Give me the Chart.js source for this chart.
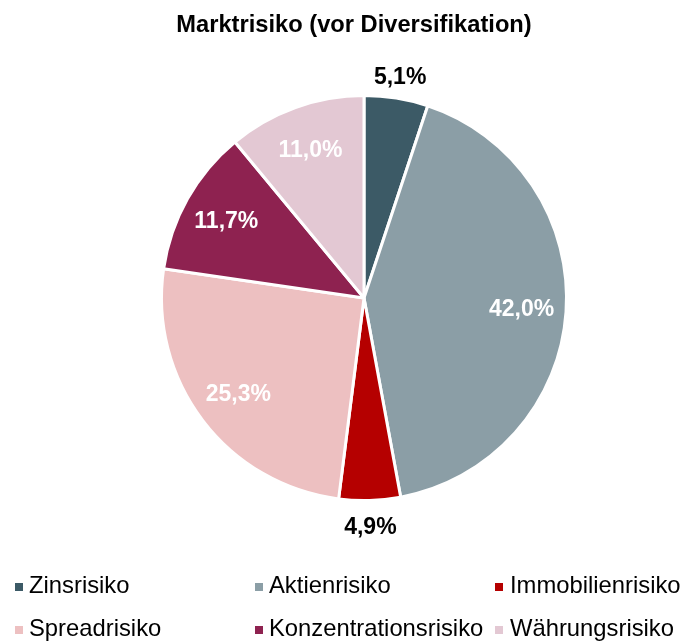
<!DOCTYPE html>
<html>
<head>
<meta charset="utf-8">
<script src="https://cdn.jsdelivr.net/npm/chart.js@4"></script>
<style>
  html, body { margin: 0; padding: 0; background: #ffffff; }
  #wrap { width: 683px; height: 641px; }
</style>
</head>
<body>
<div id="wrap"><canvas id="c" width="683" height="641"></canvas></div>
<script>
const chartTitle = 'Marktrisiko (vor Diversifikation)';
const categories = ['Zinsrisiko', 'Aktienrisiko', 'Immobilienrisiko', 'Spreadrisiko', 'Konzentrationsrisiko', 'Währungsrisiko'];
const shares = [5.1, 42.0, 4.9, 25.3, 11.7, 11.0];
const sliceColors = ['#3C5A66', '#8B9EA6', '#B50000', '#EDC0C1', '#8E2250', '#E3C8D3'];

const FONT = '"Liberation Sans", Arial, Helvetica, sans-serif';
const fmt = v => v.toFixed(1).replace('.', ',') + '%';

const decorPlugin = {
  id: 'decor',
  afterDraw(chart) {
    const ctx = chart.ctx;
    ctx.save();
    // Title
    ctx.fillStyle = '#000000';
    ctx.font = 'bold 23.7px ' + FONT;
    ctx.textAlign = 'center';
    ctx.textBaseline = 'alphabetic';
    ctx.fillText(chartTitle, 354, 32);

    // Slice labels
    const meta = chart.getDatasetMeta(0);
    const vals = chart.data.datasets[0].data;
    ctx.font = 'bold 23px ' + FONT;
    ctx.textBaseline = 'middle';
    meta.data.forEach((arc, i) => {
      const p = arc.getProps(['x', 'y', 'startAngle', 'endAngle', 'outerRadius'], true);
      const mid = (p.startAngle + p.endAngle) / 2;
      const outside = vals[i] < 6;
      const r = outside ? p.outerRadius + 24 : p.outerRadius * 0.78;
      const x = p.x + Math.cos(mid) * r;
      const y = p.y + Math.sin(mid) * r + (outside ? 3 : 1);
      ctx.fillStyle = outside ? '#000000' : '#ffffff';
      ctx.textAlign = 'center';
      ctx.fillText(fmt(vals[i]), x, y);
    });

    // Legend (3 columns x 2 rows)
    const colX = [15, 255, 495];
    const rowBase = [593, 636];
    ctx.font = '23.8px ' + FONT;
    ctx.textAlign = 'left';
    ctx.textBaseline = 'alphabetic';
    chart.data.labels.forEach((lab, i) => {
      const cx = colX[i % 3];
      const by = rowBase[Math.floor(i / 3)];
      ctx.fillStyle = chart.data.datasets[0].backgroundColor[i];
      ctx.fillRect(cx, by - 10, 8, 8);
      ctx.fillStyle = '#000000';
      ctx.fillText(lab, cx + 14 + (i % 3 === 2 ? 1 : 0), by);
    });
    ctx.restore();
  }
};

new Chart(document.getElementById('c'), {
  type: 'pie',
  data: {
    labels: categories,
    datasets: [{
      data: shares,
      backgroundColor: sliceColors,
      borderColor: '#ffffff',
      borderWidth: 3
    }]
  },
  options: {
    responsive: false,
    devicePixelRatio: 1,
    animation: false,
    layout: { padding: { left: 160, right: 115, top: 94, bottom: 139 } },
    plugins: {
      legend: { display: false },
      title: { display: false },
      tooltip: { enabled: false }
    }
  },
  plugins: [decorPlugin]
});
</script>
</body>
</html>
